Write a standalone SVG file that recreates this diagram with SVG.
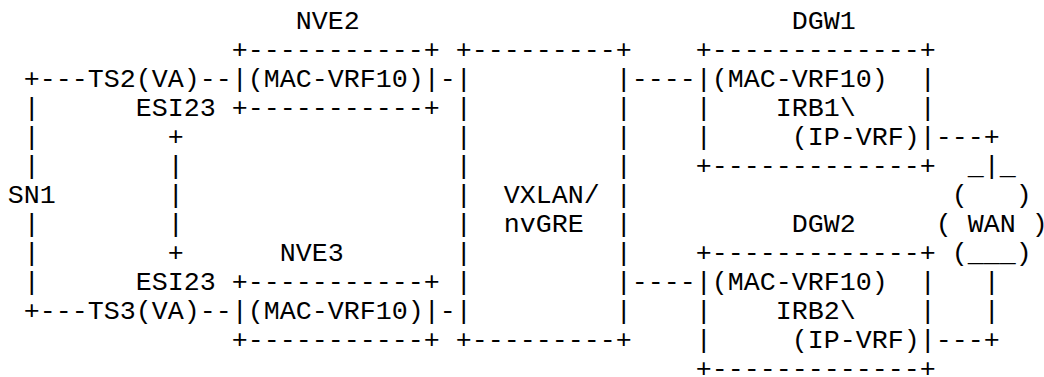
<svg xmlns="http://www.w3.org/2000/svg" width="1044" height="377" viewBox="0 0 1044 377" xml:space="preserve">
<style>
text { font-family: "Liberation Mono", "DejaVu Sans Mono", monospace; font-size: 26.667px; fill: #000; white-space: pre; }
</style>
<rect width="1044" height="377" fill="#ffffff"/>
<g id="connectors">
<text x="23.7" y="86.5">+---</text>
<text x="199.7" y="86.5">--</text>
<text x="439.7" y="86.5">-</text>
<text x="631.7" y="86.5">----</text>
<text x="23.7" y="115.5">|</text>
<text x="23.7" y="144.5">|</text>
<text x="23.7" y="173.5">|</text>
<text x="23.7" y="231.5">|</text>
<text x="23.7" y="260.5">|</text>
<text x="23.7" y="289.5">|</text>
<text x="23.7" y="318.5">+---</text>
<text x="199.7" y="318.5">--</text>
<text x="439.7" y="318.5">-</text>
<text x="167.7" y="144.5">+</text>
<text x="167.7" y="173.5">|</text>
<text x="167.7" y="202.5">|</text>
<text x="167.7" y="231.5">|</text>
<text x="167.7" y="260.5">+</text>
<text x="631.7" y="289.5">----</text>
<text x="935.7" y="144.5">---+</text>
<text x="983.7" y="289.5">|</text>
<text x="983.7" y="318.5">|</text>
<text x="935.7" y="347.5">---+</text>
</g>
<g id="SN1"><text x="7.7" y="202.5">SN1</text></g>
<g id="TS2"><text x="87.7" y="86.5">TS2(VA)</text></g>
<g id="TS3"><text x="87.7" y="318.5">TS3(VA)</text></g>
<g id="ESI23">
<text x="135.7" y="115.5">ESI23</text>
<text x="135.7" y="289.5">ESI23</text>
</g>
<g id="NVE2">
<text x="295.7" y="28.5">NVE2</text>
<text x="231.7" y="57.5">+-----------+</text>
<text x="231.7" y="86.5">|(MAC-VRF10)|</text>
<text x="231.7" y="115.5">+-----------+</text>
</g>
<g id="NVE3">
<text x="279.7" y="260.5">NVE3</text>
<text x="231.7" y="289.5">+-----------+</text>
<text x="231.7" y="318.5">|(MAC-VRF10)|</text>
<text x="231.7" y="347.5">+-----------+</text>
</g>
<g id="VXLAN">
<text x="455.7" y="57.5">+---------+</text>
<text x="455.7" y="86.5">|         |</text>
<text x="455.7" y="115.5">|         |</text>
<text x="455.7" y="144.5">|         |</text>
<text x="455.7" y="173.5">|         |</text>
<text x="455.7" y="202.5">|  VXLAN/ |</text>
<text x="455.7" y="231.5">|  nvGRE  |</text>
<text x="455.7" y="260.5">|         |</text>
<text x="455.7" y="289.5">|         |</text>
<text x="455.7" y="318.5">|         |</text>
<text x="455.7" y="347.5">+---------+</text>
</g>
<g id="DGW1">
<text x="791.7" y="28.5">DGW1</text>
<text x="695.7" y="57.5">+-------------+</text>
<text x="695.7" y="86.5">|(MAC-VRF10)  |</text>
<text x="695.7" y="115.5">|    IRB1\    |</text>
<text x="695.7" y="144.5">|     (IP-VRF)|</text>
<text x="695.7" y="173.5">+-------------+</text>
</g>
<g id="DGW2">
<text x="791.7" y="231.5">DGW2</text>
<text x="695.7" y="260.5">+-------------+</text>
<text x="695.7" y="289.5">|(MAC-VRF10)  |</text>
<text x="695.7" y="318.5">|    IRB2\    |</text>
<text x="695.7" y="347.5">|     (IP-VRF)|</text>
<text x="695.7" y="376.5">+-------------+</text>
</g>
<g id="WAN">
<text x="967.7" y="173.5">_|_</text>
<text x="951.7" y="202.5">(   )</text>
<text x="935.7" y="231.5">( WAN )</text>
<text x="951.7" y="260.5">(___)</text>
</g>
</svg>
